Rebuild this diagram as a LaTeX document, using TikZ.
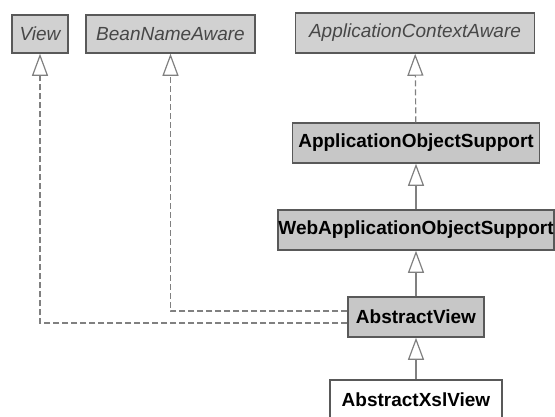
\documentclass[tikz,border=0pt]{standalone}
\usepackage{fontspec}
\setmainfont{Liberation Sans}
\usetikzlibrary{arrows.meta}

\tikzset{
  iface/.style={draw=black!65, line width=1.5pt, fill=black!18, minimum height=38pt,
    inner sep=0pt, text=black!72, font=\fontsize{19}{21}\selectfont\itshape},
  cls/.style={draw=black!65, line width=1.5pt, fill=black!22, minimum height=40pt,
    inner sep=0pt, font=\fontsize{19}{21}\selectfont\bfseries},
  extends/.style={draw=black!50, line width=1.2pt, -{Triangle[open, length=22pt, width=16pt]}},
  realizes/.style={extends, dash pattern=on 6pt off 3pt}
}

\begin{document}
\begin{tikzpicture}[x=1pt, y=-1pt]
      \useasboundingbox (0,0) rectangle (555,416);

      % interfaces
      \node[iface, minimum width=56pt] (view) at (40, 34) {View};
      \node[iface, minimum width=169pt] (bna) at (170.5, 34) {BeanNameAware};
      \node[iface, minimum width=239pt, minimum height=40pt] (aca) at (415, 33) {ApplicationContextAware};

      % classes
      \node[cls, minimum width=247pt] (aos) at (416, 143) {ApplicationObjectSupport};
      \node[cls, minimum width=276pt] (waos) at (416, 230) {WebApplicationObjectSupport};
      \node[cls, minimum width=136pt] (av) at (416, 317) {AbstractView};
      \node[cls, minimum width=172pt, fill=white] (axv) at (416, 400) {AbstractXslView};

      % inheritance
      \draw[realizes] (aos) -- (aca);
      \draw[extends] (waos) -- (aos);
      \draw[extends] (av) -- (waos);
      \draw[extends] (axv) -- (av);

      % implemented interfaces
      \draw[realizes] ([yshift=6pt]av.west) -| (bna);
      \draw[realizes] ([yshift=-6pt]av.west) -| (view);
\end{tikzpicture}
\end{document}
